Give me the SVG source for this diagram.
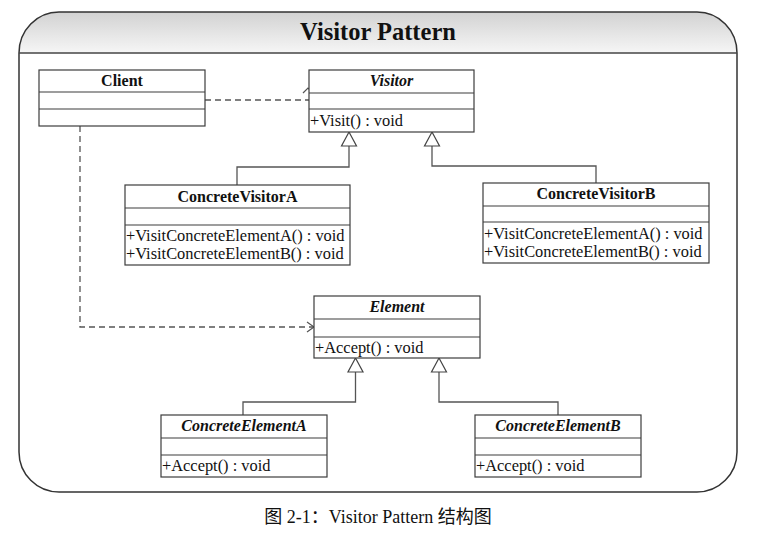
<svg xmlns="http://www.w3.org/2000/svg" width="762" height="534" viewBox="0 0 762 534">
<defs>
<linearGradient id="hdr" x1="0" y1="0" x2="0" y2="1">
<stop offset="0" stop-color="#d2d2d2"/>
<stop offset="1" stop-color="#f6f6f6"/>
</linearGradient>
<style>
.box{fill:#ffffff;stroke:#3c3c3c;stroke-width:1.2}
.div{stroke:#3c3c3c;stroke-width:1.2}
.cn{font-family:"Liberation Serif","Times New Roman",serif;font-size:16px;font-weight:bold;fill:#111;text-anchor:middle}
.ab{font-style:italic}
.op{font-family:"Liberation Serif","Times New Roman",serif;font-size:16.4px;fill:#111}
.ttl{font-family:"Liberation Serif","Times New Roman",serif;font-size:24.5px;font-weight:bold;fill:#111;text-anchor:middle}
.cap{font-family:"Liberation Serif","Noto Sans CJK SC",serif;font-size:18px;fill:#111;text-anchor:middle}
.gen{fill:none;stroke:#555;stroke-width:1.3}
.tri{fill:#fff;stroke:#444;stroke-width:1.2}
.dash{fill:none;stroke:#555;stroke-width:1.3;stroke-dasharray:6,4}
.arr{fill:none;stroke:#555;stroke-width:1.2}
</style>
</defs>
<rect width="762" height="534" fill="#ffffff"/>
<g id="frame">
<path d="M19,53 A40,41 0 0 1 59,12 H697 A40,41 0 0 1 737,53 Z" fill="url(#hdr)"/>
<path d="M59,12 H697 A40,41 0 0 1 737,53 V452 A40,40 0 0 1 697,492 H59 A40,40 0 0 1 19,452 V53 A40,41 0 0 1 59,12 Z" fill="none" stroke="#333" stroke-width="1.5"/>
<line x1="19" y1="53" x2="737" y2="53" stroke="#444" stroke-width="1.3"/>
<text class="ttl" x="378" y="40">Visitor Pattern</text>
</g>
<g id="connectors">
<polyline class="gen" points="237,185 237,167 349,167 349,146"/>
<polygon class="tri" points="349,132 341.5,146 356.5,146"/>
<polyline class="gen" points="596,183 596,166 432,166 432,146"/>
<polygon class="tri" points="432,132 424.5,146 439.5,146"/>
<polyline class="gen" points="243,415 243,402 355.5,402 355.5,372"/>
<polygon class="tri" points="355.5,358 348,372 363,372"/>
<polyline class="gen" points="558,415 558,402 439,402 439,372"/>
<polygon class="tri" points="439,358 431.5,372 446.5,372"/>
<polyline class="dash" points="205,100 309,100"/>
<polyline class="arr" points="303,93 308,88 313,93"/>
<polyline class="dash" points="80,126 80,327 314,327"/>
<polyline class="arr" points="307,322 314,327 307,332"/>
</g>
<g id="client">
<rect class="box" x="39" y="70" width="166" height="56"/>
<line class="div" x1="39" y1="92" x2="205" y2="92"/>
<line class="div" x1="39" y1="109" x2="205" y2="109"/>
<text class="cn" x="122" y="86">Client</text>
</g>
<g id="visitor">
<rect class="box" x="309" y="70" width="165" height="62"/>
<line class="div" x1="309" y1="93" x2="474" y2="93"/>
<line class="div" x1="309" y1="109" x2="474" y2="109"/>
<text class="cn ab" x="391.5" y="86">Visitor</text>
<text class="op" x="310" y="126">+Visit() : void</text>
</g>
<g id="concreteVisitorA">
<rect class="box" x="125" y="185" width="225" height="80"/>
<line class="div" x1="125" y1="208" x2="350" y2="208"/>
<line class="div" x1="125" y1="225" x2="350" y2="225"/>
<text class="cn" x="237.5" y="202">ConcreteVisitorA</text>
<text class="op" x="126" y="241">+VisitConcreteElementA() : void</text>
<text class="op" x="126" y="259">+VisitConcreteElementB() : void</text>
</g>
<g id="concreteVisitorB">
<rect class="box" x="483" y="183" width="226" height="80"/>
<line class="div" x1="483" y1="206" x2="709" y2="206"/>
<line class="div" x1="483" y1="222" x2="709" y2="222"/>
<text class="cn" x="596" y="199">ConcreteVisitorB</text>
<text class="op" x="484" y="239">+VisitConcreteElementA() : void</text>
<text class="op" x="484" y="257">+VisitConcreteElementB() : void</text>
</g>
<g id="element">
<rect class="box" x="314" y="296" width="166" height="62"/>
<line class="div" x1="314" y1="319" x2="480" y2="319"/>
<line class="div" x1="314" y1="337" x2="480" y2="337"/>
<text class="cn ab" x="397" y="312">Element</text>
<text class="op" x="315" y="353">+Accept() : void</text>
</g>
<g id="concreteElementA">
<rect class="box" x="161" y="415" width="166" height="62"/>
<line class="div" x1="161" y1="438" x2="327" y2="438"/>
<line class="div" x1="161" y1="455" x2="327" y2="455"/>
<text class="cn ab" x="244" y="431">ConcreteElementA</text>
<text class="op" x="162" y="471">+Accept() : void</text>
</g>
<g id="concreteElementB">
<rect class="box" x="475" y="415" width="166" height="62"/>
<line class="div" x1="475" y1="438" x2="641" y2="438"/>
<line class="div" x1="475" y1="455" x2="641" y2="455"/>
<text class="cn ab" x="558" y="431">ConcreteElementB</text>
<text class="op" x="476" y="471">+Accept() : void</text>
</g>
<text class="cap" x="378" y="523">图 2-1：Visitor Pattern 结构图</text>
</svg>
